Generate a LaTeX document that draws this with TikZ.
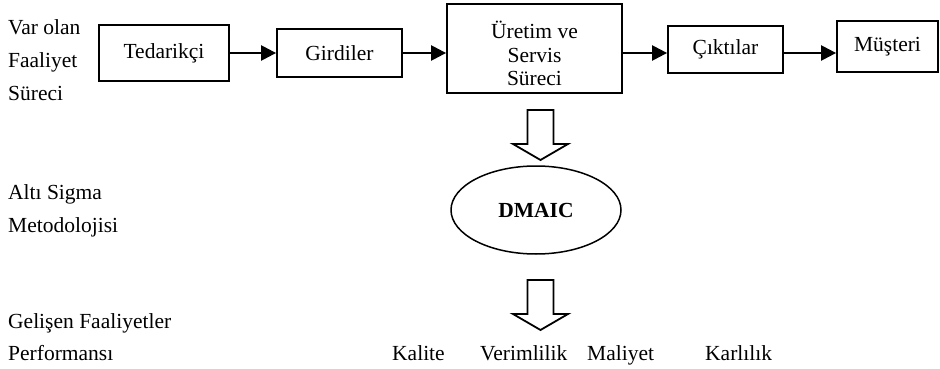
\documentclass[tikz,border=0pt]{standalone}
\usepackage{fontspec}
\setmainfont{Liberation Serif}
\usetikzlibrary{shapes,shapes.geometric,arrows.meta}

\begin{document}
\begin{tikzpicture}
	[x=1pt,y=-1pt,
	every node/.style={font=\fontsize{21.5}{23.5}\selectfont},
	kutu/.style={draw,line width=1.8pt,rectangle,inner sep=0pt,align=center},
	ok/.style={line width=2.4pt,-{Triangle[length=15pt,width=15pt]}},
	blok/.style={draw,line width=1.8pt,line join=miter,fill=white},
	yazi/.style={anchor=base west,inner sep=0pt}]
	\useasboundingbox (0,0) rectangle (940,369);
	% mevcut surec
	\node[kutu,minimum width=130pt,minimum height=56pt] (ted) at (164,53) {Tedarikçi};
	\node[kutu,minimum width=125pt,minimum height=48pt] (gir) at (339.5,53) {Girdiler};
	\node[kutu,minimum width=175pt,minimum height=89pt] (ure) at (534.5,48.5) {};
	\node[align=center,inner sep=0pt] (uremetin) at ([yshift=-5pt]ure.center) {Üretim ve\\Servis\\Süreci};
	\node[kutu,minimum width=115pt,minimum height=47pt] (cik) at (725.5,49.5) {Çıktılar};
	\node[kutu,minimum width=101pt,minimum height=51pt] (mus) at (887.5,46.5) {Müşteri};
	\draw[ok] (ted.east) -- (gir.west);
	\draw[ok] (gir.east) -- (gir.east -| ure.west);
	\draw[ok] (ure.east |- gir.east) -- (cik.west |- gir.east);
	\draw[ok] (cik.east |- gir.east) -- (mus.west |- gir.east);
	
	% alti sigma
	\node[draw,ellipse,line width=1.5pt,minimum width=170pt,minimum height=88pt,
		inner sep=0pt,font=\fontsize{21.5}{23.5}\selectfont\bfseries] (dmaic) at (536,210) {DMAIC};
	\foreach \ust in {110,280}
	{
		\draw[blok] (527.5,\ust) -- (553.5,\ust) -- (553.5,\ust+34) -- (568,\ust+34)
			-- (540.5,\ust+50) -- (513,\ust+34) -- (527.5,\ust+34) -- cycle;
	}
	
	% etiketler
	\foreach \y/\metin [count=\i] in {35/Var olan,68/Faaliyet,100/Süreci,199/Altı Sigma,
		232/Metodolojisi,328/Gelişen Faaliyetler,360/Performansı}
	{
		\node[yazi] (sol\i) at (8,\y) {\metin};
	}
	\foreach \x/\metin [count=\i] in {392/Kalite,480/Verimlilik,587/Maliyet,705/Karlılık}
	{
		\node[yazi] (alt\i) at (\x,360) {\metin};
	}
\end{tikzpicture}
\end{document}
